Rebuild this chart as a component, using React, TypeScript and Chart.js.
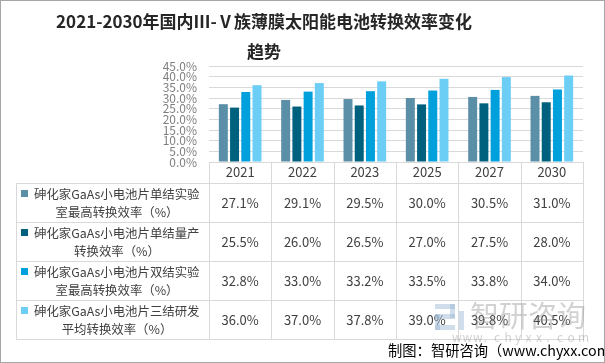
import React, { useEffect, useRef } from "react";
import { Chart, registerables } from "chart.js";

Chart.register(...registerables);

const TITLE_LINES = ["2021-2030年国内Ⅲ-Ⅴ族薄膜太阳能电池转换效率变化", "趋势"];
const CATEGORIES = ["2021", "2022", "2023", "2025", "2027", "2030"];
const SERIES_NAMES = [
  ["砷化家GaAs小电池片单结实验", "室最高转换效率（%）"],
  ["砷化家GaAs小电池片单结量产", "转换效率（%）"],
  ["砷化家GaAs小电池片双结实验", "室最高转换效率（%）"],
  ["砷化家GaAs小电池片三结研发", "平均转换效率（%）"],
];
const SINGLE_LAB = [27.1, 29.1, 29.5, 30.0, 30.5, 31.0];
const SINGLE_MASS = [25.5, 26.0, 26.5, 27.0, 27.5, 28.0];
const DOUBLE_LAB = [32.8, 33.0, 33.2, 33.5, 33.8, 34.0];
const TRIPLE_RD = [36.0, 37.0, 37.8, 39.0, 39.8, 40.5];
const COLORS = ["#5B8FA7", "#00617F", "#00A0DC", "#6CCDF5"];
const Y_MAX = 45;
const Y_STEP = 5;
const FOOTER = "制图：智研咨询（www.chyxx.com）";

const FONT = '"Noto Sans CJK SC", "Noto Sans", sans-serif';

const tablePlugin = {
  id: "tablePlugin",
  afterDraw(chart: any) {
    const ctx = chart.ctx;
    const x = chart.scales.x;
    const area = chart.chartArea;
    const left = area.left;
    const right = area.right;
    const bottom = area.bottom;
    const series = chart.data.datasets;
    const n = CATEGORIES.length;
    const colW = (right - left) / n;
    const headerBottom = bottom + 21;
    const rowH = 39;
    const tableLeft = 16;
    const rowTops = series.map((_: any, i: number) => headerBottom + i * rowH);
    const tableBottom = headerBottom + series.length * rowH;

    ctx.save();
    ctx.strokeStyle = "#d9d9d9";
    ctx.lineWidth = 1;
    ctx.beginPath();
    for (let i = 0; i <= n; i++) {
      const xx = Math.round(left + i * colW) + 0.5;
      ctx.moveTo(xx, bottom);
      ctx.lineTo(xx, tableBottom);
    }
    ctx.moveTo(tableLeft + 0.5, headerBottom);
    ctx.lineTo(tableLeft + 0.5, tableBottom);
    for (let r = 0; r <= series.length; r++) {
      const yy = headerBottom + r * rowH + 0.5;
      ctx.moveTo(tableLeft, yy);
      ctx.lineTo(right + 1, yy);
    }
    ctx.stroke();

    ctx.fillStyle = "#404040";
    ctx.font = `13px ${FONT}`;
    ctx.textAlign = "center";
    ctx.textBaseline = "middle";
    CATEGORIES.forEach((c, i) => {
      ctx.fillText(c, x.getPixelForValue(i), bottom + 10.5);
    });

    series.forEach((ds: any, r: number) => {
      const top = rowTops[r];
      ctx.fillStyle = ds.backgroundColor;
      ctx.fillRect(21, top + 7, 7, 7);
      ctx.fillStyle = "#404040";
      ctx.font = `12.4px ${FONT}`;
      ctx.textAlign = "left";
      ctx.fillText(SERIES_NAMES[r][0], 34, top + 11.5);
      ctx.textAlign = "center";
      ctx.fillText(SERIES_NAMES[r][1], 117, top + 29.5);
      ctx.font = `13px ${FONT}`;
      ds.data.forEach((v: number, i: number) => {
        ctx.fillText(v.toFixed(1) + "%", x.getPixelForValue(i), top + 20);
      });
    });

    ctx.fillStyle = "#262626";
    ctx.font = `bold 17px ${FONT}`;
    ctx.textAlign = "center";
    ctx.fillText(TITLE_LINES[0], 264, 22);
    ctx.fillText(TITLE_LINES[1], 264, 52);

    // watermark
    ctx.fillStyle = "rgba(150,180,210,0.45)";
    ctx.fillRect(435, 304, 20, 5);
    ctx.fillRect(450, 304, 5, 14);
    ctx.fillRect(435, 314, 20, 5);
    ctx.fillRect(435, 314, 5, 16);
    ctx.fillRect(435, 325, 20, 5);
    ctx.fillRect(459, 311, 5, 19);
    ctx.fillStyle = "rgba(140,140,140,0.4)";
    ctx.font = `29px ${FONT}`;
    ctx.textAlign = "left";
    ctx.fillText("智研咨询", 470, 316);
    ctx.font = `12px ${FONT}`;
    const url = "www.chyxx.com";
    for (let i = 0; i < url.length; i++) {
      ctx.fillText(url[i], 452 + i * 10.5, 337);
    }

    ctx.fillStyle = "#000000";
    ctx.font = `14.3px ${FONT}`;
    ctx.textAlign = "left";
    ctx.fillText(FOOTER, 388, 351);

    ctx.strokeStyle = "#a6a6a6";
    ctx.strokeRect(0.5, 0.5, 604, 362);
    ctx.restore();
  },
};

export default function App() {
  const ref = useRef<HTMLCanvasElement | null>(null);
  useEffect(() => {
    if (!ref.current) return;
    const chart = new Chart(ref.current, {
      type: "bar",
      data: {
        labels: CATEGORIES,
        datasets: [SINGLE_LAB, SINGLE_MASS, DOUBLE_LAB, TRIPLE_RD].map((d, i) => ({
          label: SERIES_NAMES[i].join(""),
          data: d,
          backgroundColor: COLORS[i],
          categoryPercentage: 0.72,
          barPercentage: 0.8,
        })),
      },
      options: {
        animation: false,
        responsive: false,
        devicePixelRatio: 1,
        layout: { padding: { left: 0, right: 22, top: 66, bottom: 201 } },
        plugins: { legend: { display: false }, title: { display: false }, tooltip: { enabled: false } },
        scales: {
          x: { display: false },
          y: {
            min: 0,
            max: Y_MAX,
            afterFit: (s: any) => {
              s.width = 209;
            },
            ticks: {
              stepSize: Y_STEP,
              autoSkip: false,
              padding: 12,
              color: "#7f7f7f",
              font: { size: 12, family: FONT, lineHeight: 1 },
              callback: (v: any) => Number(v).toFixed(1) + "%",
            },
            grid: { color: "#d9d9d9", drawTicks: false },
            border: { display: false },
          },
        },
      },
      plugins: [tablePlugin],
    });
    return () => chart.destroy();
  }, []);
  return (
    <div style={{ position: "absolute", left: 0, top: 0, width: 605, height: 363, background: "#fff" }}>
      <canvas ref={ref} width={605} height={363} style={{ display: "block" }} />
    </div>
  );
}
